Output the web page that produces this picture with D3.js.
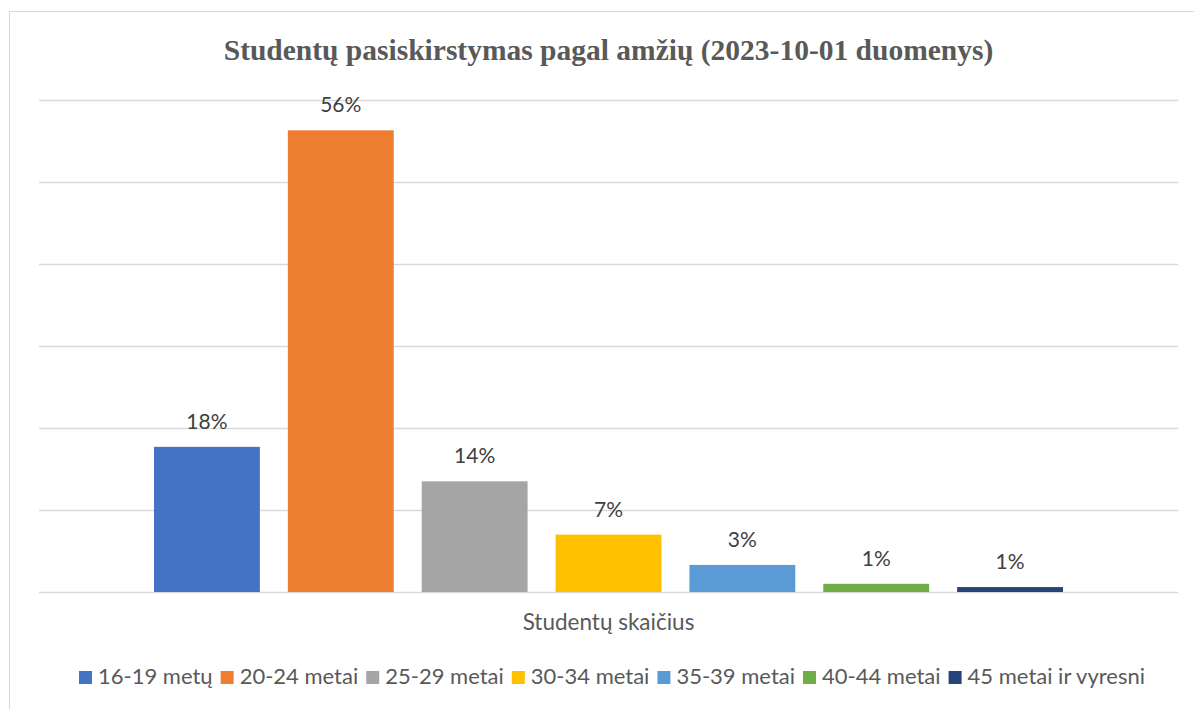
<!DOCTYPE html>
<html>
<head>
<meta charset="utf-8">
<script src="https://cdn.jsdelivr.net/npm/d3@7"></script>
<style>
  body { margin: 0; background: #fff; }
  svg { display: block; }
</style>
</head>
<body>
<script>
// chart data
const title = 'Studentų pasiskirstymas pagal amžių (2023-10-01 duomenys)';
const category = 'Studentų skaičius';
const series = ['16-19 metų', '20-24 metai', '25-29 metai', '30-34 metai', '35-39 metai', '40-44 metai', '45 metai ir vyresni'];
const values = [17.7, 56.3, 13.5, 7.0, 3.3, 1.0, 0.6];
const labels = ['18%', '56%', '14%', '7%', '3%', '1%', '1%'];
const colors = ['#4472C4', '#ED7D31', '#A5A5A5', '#FFC000', '#5B9BD5', '#70AD47', '#264478'];
const yTicks = [0, 10, 20, 30, 40, 50, 60];

const width = 1194;
const height = 709;
const margin = ({top: 100, right: 16, bottom: 117, left: 39});
const textFont = 'Lato, "Open Sans", sans-serif';

const svg = d3.select('body')
  .append('svg')
  .attr('width', width)
  .attr('height', height);

// chart frame
svg.append('rect')
  .attr('x', 9.5)
  .attr('y', 11.5)
  .attr('width', width)
  .attr('height', height)
  .attr('fill', 'none')
  .attr('stroke', '#D9D9D9');

// scales
const yScale = d3.scaleLinear()
  .domain([0, 60])
  .range([height - margin.bottom, margin.top]);

const x0 = d3.scaleBand()
  .domain([category])
  .range([margin.left, width - margin.right])
  .paddingOuter(0.1265);

const x1 = d3.scaleBand()
  .domain(series)
  .range([x0(category), x0(category) + x0.bandwidth()])
  .paddingInner(0.209)
  .paddingOuter(0);

// gridlines
const yAxis = d3.axisLeft(yScale)
  .tickValues(yTicks)
  .tickSize(-(width - margin.left - margin.right))
  .tickFormat('');

svg.append('g')
  .attr('transform', `translate(${margin.left},0)`)
  .call(yAxis)
  .call(g => g.select('.domain').remove())
  .call(g => g.selectAll('.tick line')
    .attr('stroke', '#D9D9D9')
    .attr('stroke-width', 1.3));

// bars
const data = series.map((s, i) => ({name: s, value: values[i], label: labels[i], color: colors[i]}));

svg.append('g')
  .selectAll('rect')
  .data(data)
  .join('rect')
  .attr('x', d => x1(d.name))
  .attr('y', d => yScale(d.value))
  .attr('width', x1.bandwidth())
  .attr('height', d => yScale(0) - yScale(d.value))
  .attr('fill', d => d.color);

// data labels
svg.append('g')
  .selectAll('text')
  .data(data)
  .join('text')
  .attr('x', d => x1(d.name) + x1.bandwidth() / 2)
  .attr('y', d => yScale(d.value) - 18)
  .attr('text-anchor', 'middle')
  .style('font-family', textFont)
  .style('font-size', '21px')
  .style('fill', '#404040')
  .text(d => d.label);

// category label
svg.append('text')
  .attr('x', x0(category) + x0.bandwidth() / 2)
  .attr('y', 630)
  .attr('text-anchor', 'middle')
  .style('font-family', textFont)
  .style('font-size', '22.5px')
  .style('fill', '#595959')
  .text(category);

// title
svg.append('text')
  .attr('x', x0(category) + x0.bandwidth() / 2)
  .attr('y', 60)
  .attr('text-anchor', 'middle')
  .style('font-family', '"Liberation Serif", "Times New Roman", serif')
  .style('font-weight', 'bold')
  .style('font-size', '29.5px')
  .style('fill', '#595959')
  .text(title);

// legend
const legend = svg.append('g');
const items = legend.selectAll('g')
  .data(data)
  .join('g');

items.append('rect')
  .attr('width', 13)
  .attr('height', 13)
  .attr('y', -13)
  .attr('fill', d => d.color);

items.append('text')
  .attr('x', 19)
  .attr('y', 0)
  .style('font-family', textFont)
  .style('font-size', '22px')
  .style('fill', '#595959')
  .text(d => d.name);

let offset = 0;
items.each(function() {
  const w = d3.select(this).select('text').node().getComputedTextLength();
  d3.select(this).attr('transform', `translate(${offset},0)`);
  offset += 19 + w + 8;
});
const legendWidth = offset - 8;
legend.attr('transform', `translate(${612 - legendWidth / 2},684)`);
</script>
</body>
</html>
